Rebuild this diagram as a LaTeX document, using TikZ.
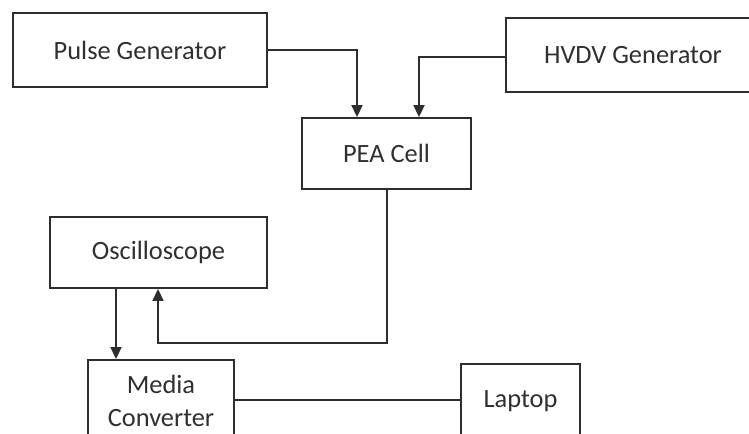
\documentclass[tikz,border=0pt]{standalone}
\usepackage{fontspec}
\setmainfont{Carlito}
\usetikzlibrary{arrows.meta}
\definecolor{ln}{HTML}{2E2E2E}
\definecolor{tx}{HTML}{303030}
\tikzset{
  blk/.style={draw=ln, line width=1.9bp, fill=white, inner sep=0pt, text=tx,
    font=\fontsize{26.5}{33}\selectfont, align=center, anchor=center},
  conn/.style={draw=ln, line width=1.9bp},
  arr/.style={conn, -{Triangle[width=11bp,length=12bp]}}
}
\begin{document}
\begin{tikzpicture}[x=1bp,y=-1bp]
\useasboundingbox (0,0) rectangle (749,434);
\fill[white] (0,0) rectangle (749,434);
\clip (0,0) rectangle (749,434);
\node[blk, minimum width=254bp, minimum height=74bp] (pulse) at (140,50) {Pulse Generator};
\node[blk, minimum width=254bp, minimum height=74bp] (hvdv) at (633,55) {HVDV Generator};
\node[blk, minimum width=169bp, minimum height=71bp] (pea) at (386.5,153.5) {PEA Cell};
\node[blk, minimum width=217bp, minimum height=71bp] (osc) at (158.5,252.5) {Oscilloscope};
\node[blk, minimum width=146bp, minimum height=82bp] (media) at (161,401) {Media\\Converter};
\node[blk, minimum width=119bp, minimum height=74bp] (laptop) at (520.5,401) {Laptop};
\coordinate (c1) at (357,50);
\coordinate (c2) at (419,57);
\coordinate (c3) at (387,343);
\coordinate (c4) at (158,343);
\draw[arr] (pulse.east |- c1) -- (c1) -- (c1 |- pea.north);
\draw[arr] (hvdv.west |- c2) -- (c2) -- (c2 |- pea.north);
\draw[arr] (c3 |- pea.south) -- (c3) -- (c4) -- (c4 |- osc.south);
\draw[arr] ([xshift=-42.5bp]osc.south) -- ([xshift=-42.5bp]osc.south |- media.north);
\draw[conn] (media.east |- 0,400) -- (laptop.west |- 0,400);
\end{tikzpicture}
\end{document}
